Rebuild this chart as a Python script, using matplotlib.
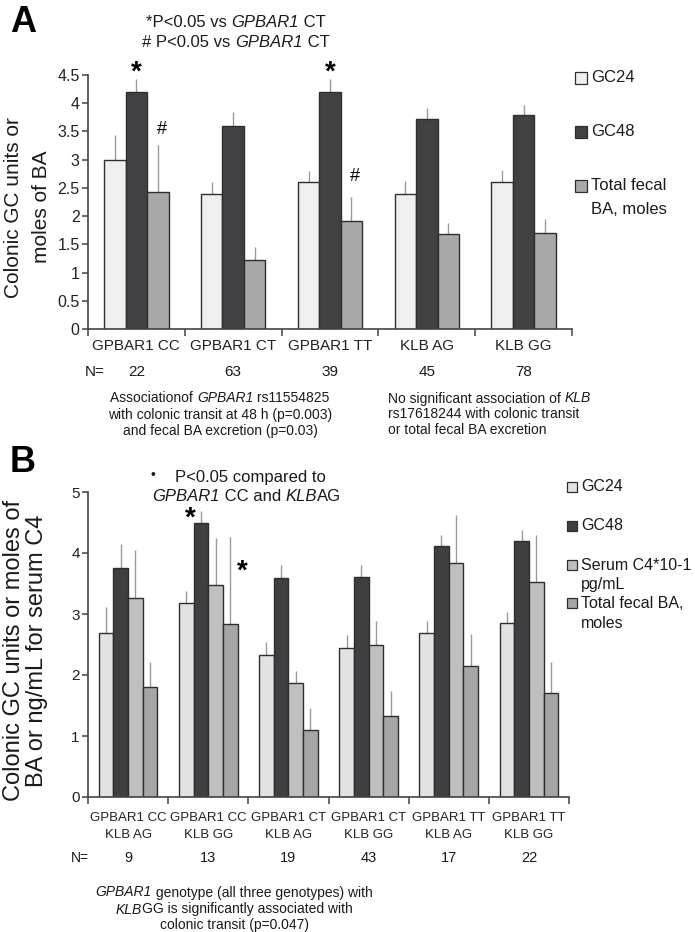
import numpy as np
import matplotlib
matplotlib.use("Agg")
import matplotlib.pyplot as plt
from matplotlib.patches import Rectangle

plt.rcParams['font.family'] = ['Liberation Sans', 'DejaVu Sans']

# ---------------- Panel A data ----------------
a_categories = ["GPBAR1 CC", "GPBAR1 CT", "GPBAR1 TT", "KLB AG", "KLB GG"]
a_n = ["22", "63", "39", "45", "78"]
a_series = ["GC24", "GC48", "Total fecal\nBA, moles"]
a_gc24 = [3.0, 2.4, 2.6, 2.4, 2.6]
a_gc48 = [4.2, 3.6, 4.2, 3.72, 3.8]
a_ba = [2.42, 1.23, 1.91, 1.68, 1.70]
a_gc24_err = [0.44, 0.20, 0.20, 0.23, 0.22]
a_gc48_err = [0.23, 0.24, 0.23, 0.19, 0.17]
a_ba_err = [0.84, 0.22, 0.42, 0.20, 0.24]
a_yticks = [0, 0.5, 1, 1.5, 2, 2.5, 3, 3.5, 4, 4.5]

# ---------------- Panel B data ----------------
b_categories = ["GPBAR1 CC\nKLB AG", "GPBAR1 CC\nKLB GG", "GPBAR1 CT\nKLB AG",
                "GPBAR1 CT\nKLB GG", "GPBAR1 TT\nKLB AG", "GPBAR1 TT\nKLB GG"]
b_n = ["9", "13", "19", "43", "17", "22"]
b_series = ["GC24", "GC48", "Serum C4*10-1\npg/mL", "Total fecal BA,\nmoles"]
b_gc24 = [2.69, 3.18, 2.33, 2.45, 2.69, 2.85]
b_gc48 = [3.75, 4.50, 3.59, 3.61, 4.12, 4.20]
b_c4 = [3.26, 3.47, 1.87, 2.49, 3.83, 3.52]
b_ba = [1.81, 2.84, 1.10, 1.32, 2.15, 1.71]
b_gc24_err = [0.42, 0.20, 0.21, 0.20, 0.19, 0.19]
b_gc48_err = [0.40, 0.19, 0.22, 0.19, 0.18, 0.18]
b_c4_err = [0.79, 0.78, 0.20, 0.40, 0.79, 0.78]
b_ba_err = [0.40, 1.43, 0.36, 0.41, 0.53, 0.51]
b_yticks = [0, 1, 2, 3, 4, 5]

W, H = 695, 932
fig = plt.figure(figsize=(W / 100, H / 100), dpi=100)
renderer = fig.canvas.get_renderer()


def fx(px):
    return px / W


def fy(py):
    return 1 - py / H


def rich(xp, yp, segs, fs, ha='left', color='#1a1a1a'):
    """Draw a line made of (text, italic) segments side by side."""
    objs = []
    for s, it in segs:
        t = fig.text(0, fy(yp), s, fontsize=fs, style='italic' if it else 'normal',
                     va='center_baseline', ha='left', color=color)
        objs.append(t)
    widths = [t.get_window_extent(renderer).width for t in objs]
    total = sum(widths)
    cur = xp - total / 2 if ha == 'center' else xp
    for t, w in zip(objs, widths):
        t.set_x(fx(cur))
        cur += w


EDGE = '#2e2e2e'
ERRC = '#9a9a9a'
AXC = '#444444'
TXT = '#1a1a1a'


def style_axes(ax, ymax, yticks, fs):
    for s in ['top', 'right']:
        ax.spines[s].set_visible(False)
    for s in ['left', 'bottom']:
        ax.spines[s].set_color(AXC)
        ax.spines[s].set_linewidth(1.2)
    ax.set_ylim(0, ymax)
    ax.set_yticks(yticks)
    ax.set_yticklabels([('%g' % t) for t in yticks], fontsize=fs, color='#222222')
    ax.tick_params(axis='y', direction='out', length=4, width=1.1, color=AXC, pad=2)


def draw_bars(ax, vals, errs, colors, width):
    n = len(vals)
    ng = len(vals[0])
    x = np.arange(ng)
    offs = (np.arange(n) - (n - 1) / 2) * width
    for v, e, c, o in zip(vals, errs, colors, offs):
        ax.bar(x + o, v, width, color=c, edgecolor=EDGE, linewidth=1.0, zorder=2)
        ax.errorbar(x + o, v, yerr=[np.zeros(ng), e], fmt='none', ecolor=ERRC,
                    elinewidth=1.0, capsize=0, zorder=1)
    return x, offs


def set_xaxis(ax, ng, labels, fs, pad):
    ax.set_xlim(-0.5, ng - 0.5)
    ax.set_xticks(np.arange(ng + 1) - 0.5)
    ax.set_xticklabels([''] * (ng + 1))
    ax.tick_params(axis='x', which='major', direction='out', length=5, width=1.1, color=AXC)
    ax.set_xticks(np.arange(ng), labels, minor=True)
    ax.tick_params(axis='x', which='minor', length=0, pad=pad, labelsize=fs, labelcolor='#222222')


# ================= Panel A =================
axA = fig.add_axes([fx(88), fy(329), fx(572) - fx(88), fy(75) - fy(329)])
colA = ['#efefef', '#414143', '#a9a9a9']
xA, offA = draw_bars(axA, [a_gc24, a_gc48, a_ba], [a_gc24_err, a_gc48_err, a_ba_err], colA, 0.222)
style_axes(axA, 4.5, a_yticks, 11.5)
set_xaxis(axA, len(a_categories), a_categories, 11, 7)

axA.set_ylabel("Colonic GC units or\nmoles of BA", fontsize=15, linespacing=1.6, color=TXT)
axA.yaxis.set_label_coords(-0.0765, 0.48)

# significance marks
axA.text(xA[0] + offA[1], 4.55, '*', ha='center', va='center', fontsize=20, fontweight='bold')
axA.text(xA[2] + offA[1], 4.55, '*', ha='center', va='center', fontsize=20, fontweight='bold')
axA.text(xA[0] + offA[2] + 0.04, 3.53, '#', ha='center', va='center', fontsize=13)
axA.text(xA[2] + offA[2] + 0.04, 2.71, '#', ha='center', va='center', fontsize=13)

# N row
fig.text(fx(95), fy(372), 'N=', ha='center', va='center', fontsize=11, color=TXT)
for i, n in enumerate(a_n):
    xd = axA.transData.transform((xA[i], 0))[0]
    fig.text(xd / W, fy(372), n, ha='center', va='center', fontsize=11, color=TXT)

fig.text(fx(23), fy(22), 'A', ha='center', va='center', fontsize=26, fontweight='bold')
rich(236, 21, [('*P<0.05 vs ', False), ('GPBAR1', True), (' CT', False)], 12, ha='center')
rich(236, 41, [('# P<0.05 vs ', False), ('GPBAR1', True), (' CT', False)], 12, ha='center')

rich(220, 397, [('Associationof ', False), ('GPBAR1', True), (' rs11554825', False)], 10, ha='center')
rich(220, 414, [('with colonic transit at 48 h (p=0.003)', False)], 10, ha='center')
rich(220, 430, [('and fecal BA excretion (p=0.03)', False)], 10, ha='center')
rich(388, 397, [('No significant association of ', False), ('KLB', True)], 10)
rich(388, 413, [('rs17618244 with colonic transit', False)], 10)
rich(388, 429, [('or total fecal BA excretion', False)], 10)

# legend A
legA_y = [78, 132, 186]
for c, lab, y in zip(colA, a_series, legA_y):
    fig.patches.append(Rectangle((fx(575), fy(y + 6)), fx(12), 12 / H, transform=fig.transFigure,
                                 facecolor=c, edgecolor=EDGE, linewidth=0.9))
    parts = lab.split('\n')
    fig.text(fx(591), fy(y), parts[0], ha='left', va='center', fontsize=12, color=TXT)
    if len(parts) > 1:
        fig.text(fx(591), fy(y + 23), parts[1], ha='left', va='center', fontsize=12, color=TXT)

# ================= Panel B =================
axB = fig.add_axes([fx(88), fy(797), fx(569) - fx(88), fy(492) - fy(797)])
colB = ['#e2e2e4', '#3f3f41', '#bfbfc1', '#a6a6a6']
xB, offB = draw_bars(axB, [b_gc24, b_gc48, b_c4, b_ba],
                     [b_gc24_err, b_gc48_err, b_c4_err, b_ba_err], colB, 0.183)
style_axes(axB, 5, b_yticks, 11)
set_xaxis(axB, len(b_categories), b_categories, 9.5, 11)
for lbl in axB.get_xticklabels(minor=True):
    lbl.set_linespacing(1.5)

axB.set_ylabel("Colonic GC units or moles of\nBA or ng/mL for serum C4", fontsize=17,
               linespacing=1.05, color=TXT)
axB.yaxis.set_label_coords(-0.083, 0.48)

axB.text(0.77, 4.56, '*', ha='center', va='center', fontsize=20, fontweight='bold')
axB.text(1.42, 3.70, '*', ha='center', va='center', fontsize=20, fontweight='bold')

fig.text(fx(80), fy(858), 'N=', ha='center', va='center', fontsize=10, color=TXT)
for i, n in enumerate(b_n):
    xd = axB.transData.transform((xB[i], 0))[0]
    fig.text(xd / W, fy(858), n, ha='center', va='center', fontsize=10.5, color=TXT)

fig.text(fx(23), fy(463), 'B', ha='center', va='center', fontsize=26, fontweight='bold')
fig.text(fx(153), fy(475), '•', ha='center', va='center', fontsize=10, color=TXT)
rich(175, 476, [('P<0.05 compared to', False)], 12)
rich(152, 495, [('GPBAR1', True), (' CC and ', False), ('KLB', True), ('AG', False)], 12)

rich(234, 891, [('GPBAR1', True), (' genotype (all three genotypes) with', False)], 10, ha='center')
rich(234, 908, [('KLB', True), ('GG is significantly associated with', False)], 10, ha='center')
rich(234, 924, [('colonic transit (p=0.047)', False)], 10, ha='center')

legB_y = [487, 526, 565, 603]
for c, lab, y in zip(colB, b_series, legB_y):
    fig.patches.append(Rectangle((fx(567), fy(y + 5)), fx(10), 10 / H, transform=fig.transFigure,
                                 facecolor=c, edgecolor=EDGE, linewidth=0.9))
    parts = lab.split('\n')
    fig.text(fx(581), fy(y), parts[0], ha='left', va='center', fontsize=11.5, color=TXT)
    if len(parts) > 1:
        fig.text(fx(581), fy(y + 20), parts[1], ha='left', va='center', fontsize=11.5, color=TXT)

fig.savefig('out.png', dpi=100)
